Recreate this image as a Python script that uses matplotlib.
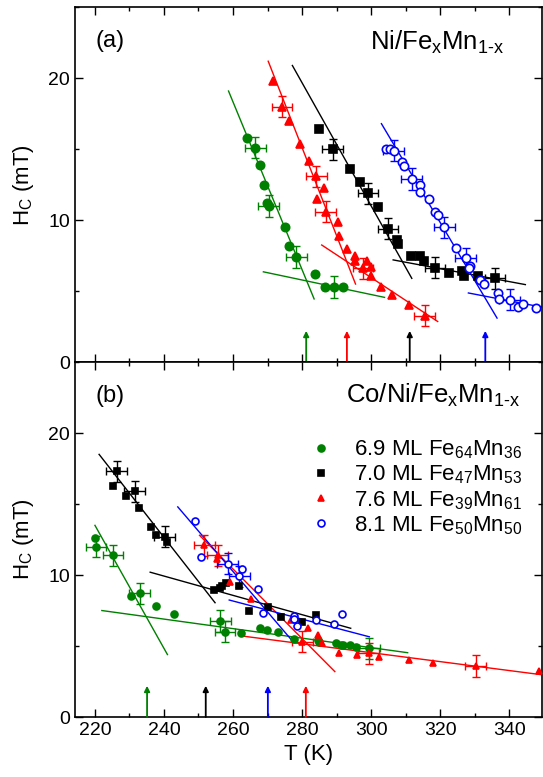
import matplotlib
matplotlib.use('Agg')
from matplotlib import pyplot as plt
from matplotlib.ticker import MultipleLocator

plt.rcParams['font.family'] = ['Liberation Sans', 'DejaVu Sans']
plt.rcParams['mathtext.fontset'] = 'custom'
plt.rcParams['mathtext.rm'] = 'Liberation Sans'
plt.rcParams['mathtext.it'] = 'Liberation Sans'

# ---------------- panel (a): Ni/FexMn1-x ----------------
a_green_T = [264.1, 266.5, 267.8, 269.1, 269.8, 270.3, 275.1, 276.3, 278.3, 283.8, 286.6, 289.2, 292.0]
a_green_H = [15.8, 15.1, 13.9, 12.5, 11.2, 11.0, 9.5, 8.2, 7.4, 6.2, 5.3, 5.3, 5.3]
a_green_eT = [266.5, 270.3, 278.3, 289.2]
a_green_eH = [15.1, 11.0, 7.4, 5.3]
a_green_fit = [([258.7, 283.5], [19.1, 4.45]), ([268.8, 303.9], [6.36, 4.56])]

a_red_T = [271.6, 274.2, 276.1, 279.3, 282.0, 284.1, 286.5, 284.3, 286.8, 290.5, 290.6, 292.9,
           295.4, 295.2, 298.8, 300.0, 297.7, 300.1, 303.0, 306.0, 310.9, 315.5]
a_red_H = [19.8, 18.0, 17.0, 15.4, 14.2, 13.1, 12.3, 11.5, 10.6, 9.9, 8.9, 8.0,
           7.5, 7.1, 7.1, 6.7, 6.6, 6.05, 5.3, 4.75, 4.0, 3.26]
a_red_eT = [274.2, 284.1, 286.8, 297.7, 315.5]
a_red_eH = [18.0, 13.1, 10.6, 6.6, 3.26]
a_red_fit = [([270.2, 295.5], [21.2, 5.5]), ([285.7, 319.3], [8.25, 2.86])]

a_black_T = [284.8, 288.9, 293.8, 296.7, 299.1, 301.9, 304.9, 307.6, 307.8, 311.5, 314.3, 315.2,
             318.5, 322.6, 326.3, 327.0, 331.1, 335.9]
a_black_H = [16.4, 15.0, 13.6, 12.7, 11.9, 10.9, 9.4, 8.6, 8.3, 7.5, 7.5, 7.1,
             6.65, 6.3, 6.4, 6.1, 6.05, 5.9]
a_black_eT = [288.9, 299.1, 304.9, 318.5, 335.9]
a_black_eH = [15.0, 11.9, 9.4, 6.65, 5.9]
a_black_fit = [([277.2, 311.8], [20.9, 5.9]), ([306.4, 344.7], [7.2, 5.46])]

a_blue_T = [304.4, 305.4, 306.6, 309.0, 309.4, 311.8, 314.3, 314.3, 316.7, 318.6, 319.3, 321.2,
            324.5, 327.4, 328.7, 328.4, 331.7, 332.8, 336.8, 337.1, 340.2, 342.5, 344.1, 347.7]
a_blue_H = [15.0, 15.0, 14.9, 14.1, 13.8, 12.9, 12.5, 12.0, 11.5, 10.6, 10.35, 9.5,
            8.05, 7.3, 6.8, 6.6, 5.8, 5.5, 4.9, 4.45, 4.4, 3.9, 4.1, 3.8]
a_blue_eT = [306.6, 311.8, 321.2, 327.4, 340.2]
a_blue_eH = [14.9, 12.9, 9.5, 7.3, 4.4]
a_blue_fit = [([303.0, 336.5], [16.8, 3.1]), ([328.2, 350.0], [4.87, 3.85])]

a_arrows = [281.2, 293.0, 311.2, 333.1]
a_arrow_colors = ['green', 'red', 'black', 'blue']

# ---------------- panel (b): Co/Ni/FexMn1-x ----------------
b_green_T = [220.0, 220.3, 225.2, 230.4, 233.0, 237.6, 242.8, 256.3, 257.7, 262.4, 267.9, 269.8,
             273.0, 277.8, 284.6, 284.9, 289.7, 291.3, 291.8, 293.9, 295.5, 299.5]
b_green_H = [12.6, 12.0, 11.4, 8.5, 8.7, 7.8, 7.25, 6.76, 6.0, 5.9, 6.3, 6.1,
             6.0, 5.5, 5.4, 5.3, 5.2, 5.1, 5.05, 5.07, 4.95, 4.84]
b_green_eT = [220.3, 225.2, 233.0, 256.3, 257.7, 299.5]
b_green_eH = [12.0, 11.4, 8.7, 6.76, 6.0, 4.84]
b_green_fit = [([220.0, 241.0], [13.5, 4.4]), ([222.0, 310.6], [7.5, 4.53])]

b_black_T = [225.2, 226.3, 229.0, 231.5, 232.7, 236.2, 237.6, 240.2, 241.0, 254.6, 256.1, 256.8,
             257.9, 261.6, 264.7, 270.0, 273.9, 279.9, 284.1]
b_black_H = [16.3, 17.3, 15.6, 15.9, 14.7, 13.4, 12.8, 12.7, 12.3, 8.94, 9.06, 9.2,
             9.46, 9.2, 7.46, 7.77, 7.06, 6.69, 7.16]
b_black_eT = [226.3, 231.5, 240.2]
b_black_eH = [17.3, 15.9, 12.7]
b_black_fit = [([221.2, 254.8], [18.5, 8.05]), ([236.0, 294.1], [10.2, 6.25])]

b_red_T = [251.7, 255.6, 255.3, 259.2, 265.2, 276.7, 280.1, 281.7, 284.6, 285.9, 290.7, 296.0,
           299.3, 302.2, 311.1, 317.8, 330.3, 348.6]
b_red_H = [12.1, 11.4, 11.1, 9.5, 8.3, 6.83, 5.3, 6.25, 5.75, 5.2, 4.49, 4.4,
           4.49, 4.2, 4.0, 3.78, 3.6, 3.26]
b_red_eT = [251.7, 255.6, 280.1, 299.3, 330.3]
b_red_eH = [12.1, 11.4, 5.3, 4.49, 3.6]
b_red_fit = [([250.3, 289.5], [12.8, 3.2]), ([262.8, 350.0], [5.7, 2.96])]

b_blue_T = [249.1, 250.8, 258.5, 262.6, 261.8, 267.1, 268.8, 277.7, 277.7, 278.5, 284.1, 289.2, 291.5]
b_blue_H = [13.8, 11.3, 10.8, 10.4, 9.9, 9.0, 7.35, 7.11, 6.88, 6.4, 6.83, 6.53, 7.25]
b_blue_eT = [258.5, 261.8]
b_blue_eH = [10.8, 9.9]
b_blue_fit = [([244.0, 277.4], [14.8, 5.3]), ([258.9, 299.5], [8.24, 5.65])]

b_arrows = [235.1, 252.1, 270.1, 281.1]
b_arrow_colors = ['green', 'black', 'blue', 'red']

legend_labels = ['6.9 ML Fe$_\\mathregular{64}$Mn$_\\mathregular{36}$',
                 '7.0 ML Fe$_\\mathregular{47}$Mn$_\\mathregular{53}$',
                 '7.6 ML Fe$_\\mathregular{39}$Mn$_\\mathregular{61}$',
                 '8.1 ML Fe$_\\mathregular{50}$Mn$_\\mathregular{50}$']

colors = ['green', 'black', 'red', 'blue']
markers = ['o', 's', '^', 'o']
fills = [True, True, True, False]

fig = plt.figure(figsize=(5.43, 7.77), dpi=100)
ax_a = fig.add_axes([0.138, 0.534, 0.86, 0.4566])
ax_b = fig.add_axes([0.138, 0.0772, 0.86, 0.4568])


def draw_panel(ax, series, msize):
    handles = []
    for (T, H, eT, eH, fits), c, m, f in zip(series, colors, markers, fills):
        for fx, fy in fits:
            ax.plot(fx, fy, color=c, lw=1.0, zorder=2)
        ax.errorbar(eT, eH, xerr=3.0, yerr=0.75, fmt='none', ecolor=c,
                    elinewidth=1.0, capsize=3, capthick=1.0, zorder=3)
        h, = ax.plot(T, H, ls='none', marker=m, ms=msize, color=c,
                     mfc=c if f else 'white', mec=c, mew=1.2, zorder=4)
        handles.append(h)
    return handles


def draw_arrows(ax, arrows, cols):
    for t, c in zip(arrows, cols):
        ax.annotate('', xy=(t, 2.2), xytext=(t, 0), zorder=5,
                    arrowprops=dict(arrowstyle='-|>', color=c, lw=1.3,
                                    mutation_scale=8, shrinkA=0, shrinkB=0))


series_a = [(a_green_T, a_green_H, a_green_eT, a_green_eH, a_green_fit),
            (a_black_T, a_black_H, a_black_eT, a_black_eH, a_black_fit),
            (a_red_T, a_red_H, a_red_eT, a_red_eH, a_red_fit),
            (a_blue_T, a_blue_H, a_blue_eT, a_blue_eH, a_blue_fit)]
series_b = [(b_green_T, b_green_H, b_green_eT, b_green_eH, b_green_fit),
            (b_black_T, b_black_H, b_black_eT, b_black_eH, b_black_fit),
            (b_red_T, b_red_H, b_red_eT, b_red_eH, b_red_fit),
            (b_blue_T, b_blue_H, b_blue_eT, b_blue_eH, b_blue_fit)]

draw_panel(ax_a, series_a, 6)
handles = draw_panel(ax_b, series_b, 5)
draw_arrows(ax_a, a_arrows, a_arrow_colors)
draw_arrows(ax_b, b_arrows, b_arrow_colors)

for ax in (ax_a, ax_b):
    ax.set_xlim(214.2, 349.5)
    ax.set_ylim(0, 25)
    ax.xaxis.set_major_locator(MultipleLocator(20))
    ax.xaxis.set_minor_locator(MultipleLocator(10))
    ax.yaxis.set_major_locator(MultipleLocator(10))
    ax.yaxis.set_minor_locator(MultipleLocator(5))
    ax.tick_params(which='both', direction='in', top=True, right=True, labelsize=14, width=1.0)
    ax.tick_params(which='major', length=6)
    ax.tick_params(which='minor', length=3)
    for sp in ax.spines.values():
        sp.set_linewidth(1.2)
    ax.set_ylabel('H$_\\mathregular{C}$ (mT)', fontsize=16, labelpad=9)

ax_a.tick_params(labelbottom=False)
ax_b.set_xlabel('T (K)', fontsize=16)

ax_a.text(0.045, 0.905, '(a)', transform=ax_a.transAxes, fontsize=17, va='center')
ax_a.text(0.92, 0.90, 'Ni/Fe$_\\mathregular{x}$Mn$_\\mathregular{1\u2010x}$', transform=ax_a.transAxes,
          fontsize=18.5, ha='right', va='center')
ax_b.text(0.045, 0.905, '(b)', transform=ax_b.transAxes, fontsize=17, va='center')
ax_b.text(0.955, 0.905, 'Co/Ni/Fe$_\\mathregular{x}$Mn$_\\mathregular{1\u2010x}$', transform=ax_b.transAxes,
          fontsize=18.5, ha='right', va='center')

ax_b.legend(handles, legend_labels, loc='upper left', bbox_to_anchor=(0.485, 0.81),
            frameon=False, fontsize=16, handletextpad=0.95, labelspacing=0.12,
            handlelength=1.0, borderaxespad=0.0)

fig.savefig('out.png', dpi=100)
